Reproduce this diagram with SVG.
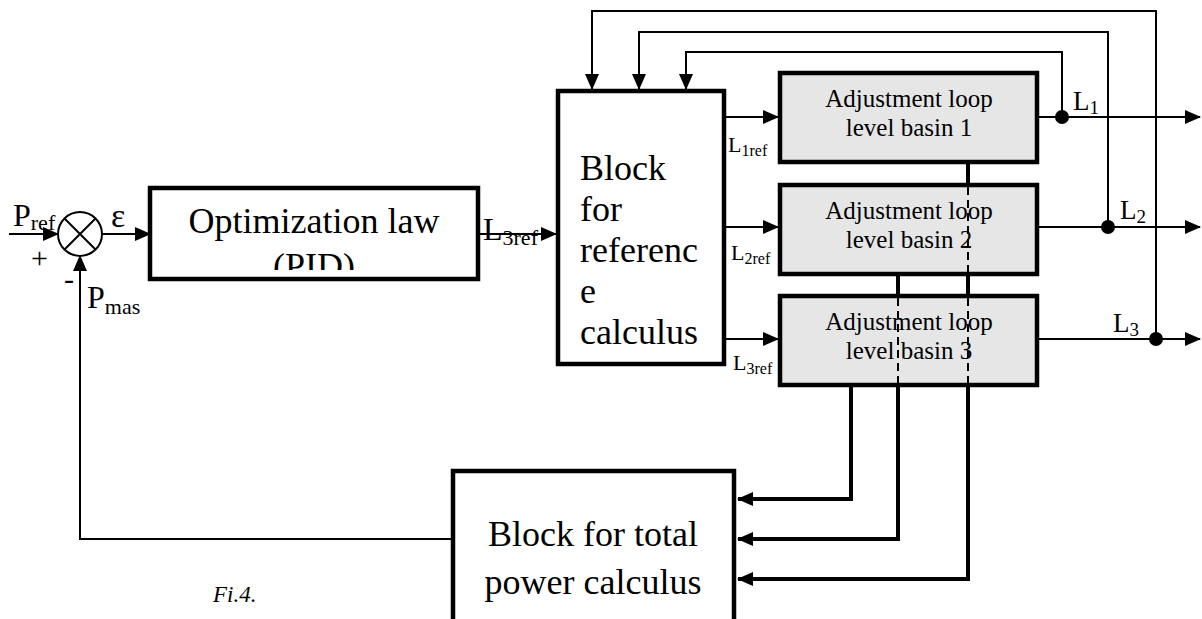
<svg xmlns="http://www.w3.org/2000/svg" width="1202" height="619" viewBox="0 0 1202 619" font-family="'Liberation Serif', 'Times New Roman', serif">
<style>
text{font-family:"Liberation Serif","Times New Roman",serif;fill:#000}
.box{fill:#fff;stroke:#000;stroke-width:4.5}
.gbox{fill:#e6e6e6;stroke:#000;stroke-width:4.5}
.thin{fill:none;stroke:#000;stroke-width:2}
.thick{fill:none;stroke:#000;stroke-width:4}
.dash{fill:none;stroke:#000;stroke-width:2;stroke-dasharray:8 5}
.big{font-size:36px}
.adj{font-size:25px;text-anchor:middle}
</style>
<defs>
<marker id="ah" markerUnits="userSpaceOnUse" markerWidth="16" markerHeight="14" refX="15" refY="7" orient="auto" viewBox="0 0 16 14">
<path d="M0,0 L16,7 L0,14 z" fill="#000"/>
</marker>
<clipPath id="pidclip"><rect x="150" y="188" width="328" height="82"/></clipPath>
</defs>
<rect width="1202" height="619" fill="#fff"/>

<g id="sum">
<circle cx="80" cy="234" r="22" fill="#fff" stroke="#000" stroke-width="2"/>
<path d="M64.5,218.5 L95.5,249.5 M95.5,218.5 L64.5,249.5" class="thin"/>
<text x="13" y="226" font-size="32">P<tspan font-size="22" dy="4">ref</tspan></text>
<text x="31" y="268" font-size="30">+</text>
<text x="64" y="289" font-size="30">-</text>
<text x="87" y="308" font-size="32">P<tspan font-size="22" dy="6">mas</tspan></text>
<text x="111" y="227" font-size="34">ε</text>
</g>

<g id="pid">
<rect class="box" x="150" y="188" width="328" height="91"/>
<text class="big" x="314" y="233" text-anchor="middle">Optimization law</text>
<text class="big" x="314" y="278" text-anchor="middle" clip-path="url(#pidclip)">(PID)</text>
</g>

<g id="refblock">
<rect class="box" x="558" y="91" width="166" height="273"/>
<text class="big" x="580" y="180">Block</text>
<text class="big" x="580" y="221">for</text>
<text class="big" x="580" y="262">referenc</text>
<text class="big" x="580" y="303">e</text>
<text class="big" x="580" y="344">calculus</text>
</g>

<g id="loop1">
<rect class="gbox" x="780" y="73" width="257" height="89"/>
<text class="adj" x="909" y="107">Adjustment loop</text>
<text class="adj" x="909" y="136">level basin 1</text>
</g>
<g id="loop2">
<rect class="gbox" x="780" y="185" width="257" height="89"/>
<text class="adj" x="909" y="219">Adjustment loop</text>
<text class="adj" x="909" y="248">level basin 2</text>
</g>
<g id="loop3">
<rect class="gbox" x="780" y="296" width="257" height="89"/>
<text class="adj" x="909" y="330">Adjustment loop</text>
<text class="adj" x="909" y="359">level basin 3</text>
</g>

<g id="power">
<rect class="box" x="453" y="471" width="281" height="160"/>
<text class="big" x="593" y="546" text-anchor="middle">Block for total</text>
<text class="big" x="593" y="594" text-anchor="middle">power calculus</text>
</g>

<g id="connectors">
<path class="thin" d="M9,234 H58" marker-end="url(#ah)"/>
<path class="thin" d="M102,234 H150" marker-end="url(#ah)"/>
<path class="thin" d="M453,539 H80 V256" marker-end="url(#ah)"/>
<path class="thin" d="M478,234 H556" marker-end="url(#ah)"/>
<path class="thin" d="M724,117 H778" marker-end="url(#ah)"/>
<path class="thin" d="M724,227 H778" marker-end="url(#ah)"/>
<path class="thin" d="M724,339 H778" marker-end="url(#ah)"/>
<path class="thin" d="M1037,117 H1200" marker-end="url(#ah)"/>
<path class="thin" d="M1037,227 H1200" marker-end="url(#ah)"/>
<path class="thin" d="M1037,339 H1200" marker-end="url(#ah)"/>
<path class="thin" d="M1062,117 V52 H686 V89" marker-end="url(#ah)"/>
<path class="thin" d="M1108,227 V32 H639 V89" marker-end="url(#ah)"/>
<path class="thin" d="M1156,339 V11 H592 V89" marker-end="url(#ah)"/>
<circle cx="1062" cy="117" r="7"/>
<circle cx="1108" cy="227" r="7"/>
<circle cx="1156" cy="339" r="7"/>
<path class="thick" d="M968,164 V183 M968,276 V294 M898,276 V294"/>
<path class="dash" d="M968,187 V272 M968,298 V383 M898,298 V383"/>
<path class="thick" d="M851,387 V499 H738" marker-end="url(#ah)"/>
<path class="thick" d="M898,387 V539 H738" marker-end="url(#ah)"/>
<path class="thick" d="M968,387 V579 H738" marker-end="url(#ah)"/>
</g>

<g id="labels">
<text x="483" y="240" font-size="32">L<tspan font-size="22" dy="5">3ref</tspan></text>
<text x="728" y="152" font-size="22">L<tspan font-size="16" dy="4">1ref</tspan></text>
<text x="731" y="260" font-size="22">L<tspan font-size="16" dy="4">2ref</tspan></text>
<text x="733" y="370" font-size="22">L<tspan font-size="16" dy="4">3ref</tspan></text>
<text x="1073" y="110" font-size="27">L<tspan font-size="19" dy="4">1</tspan></text>
<text x="1120" y="219" font-size="27">L<tspan font-size="19" dy="4">2</tspan></text>
<text x="1113" y="332" font-size="27">L<tspan font-size="19" dy="4">3</tspan></text>
<text x="213" y="602" font-size="23" font-style="italic">Fi.4.</text>
</g>
</svg>
